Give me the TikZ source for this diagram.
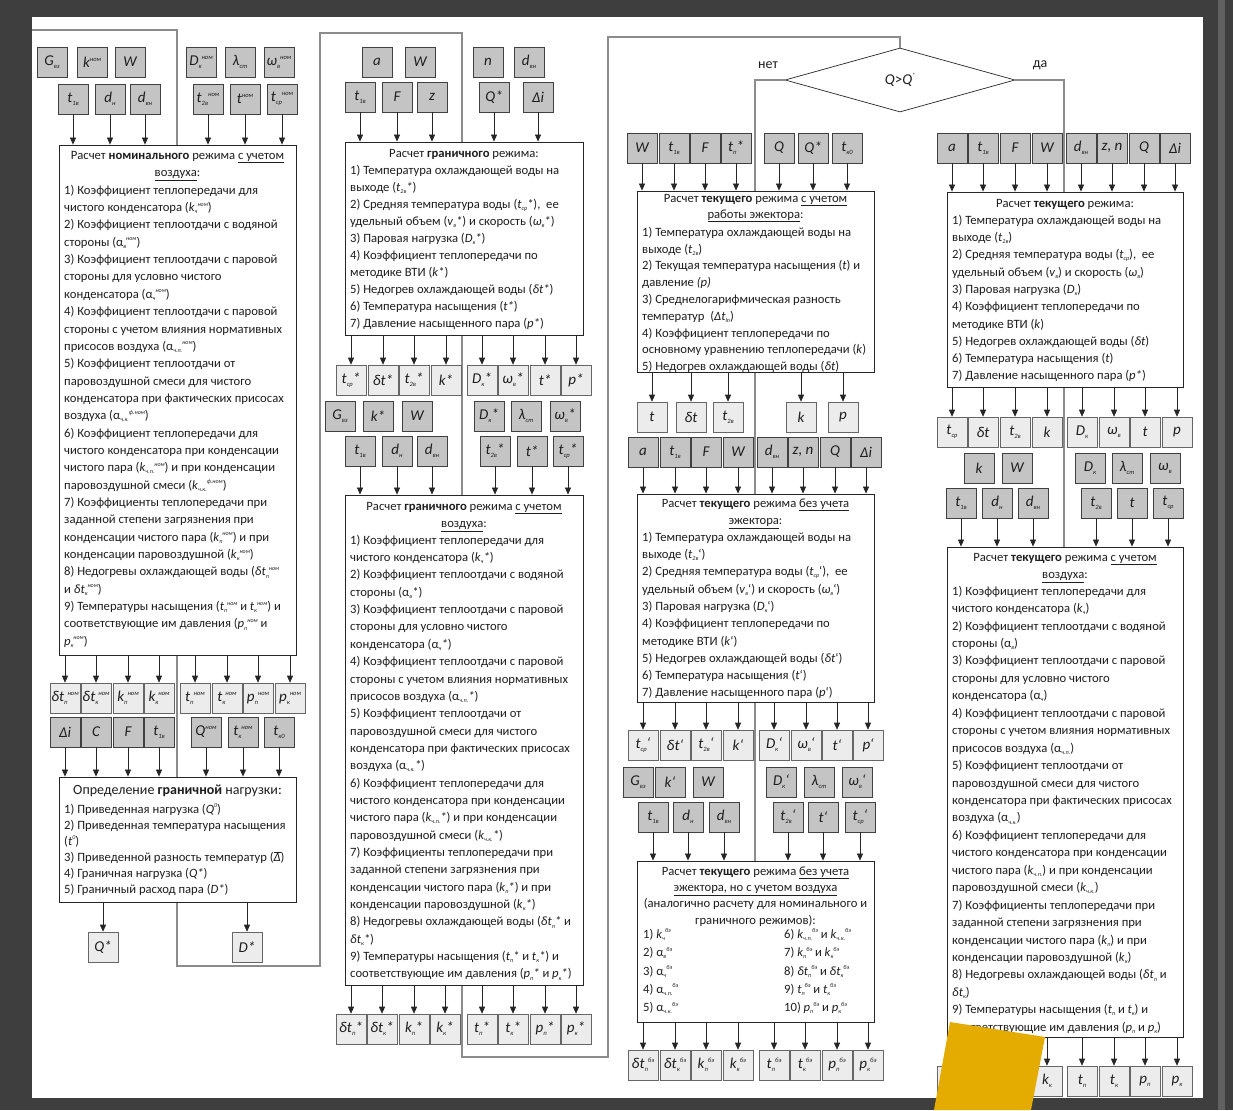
\documentclass[tikz,border=0pt]{standalone}
\usepackage{fontspec}
\setmainfont{Carlito}
\usetikzlibrary{arrows.meta,shapes.geometric}
\definecolor{frame}{RGB}{62,62,62}
\definecolor{gl}{RGB}{140,140,140}
\definecolor{inf}{RGB}{196,196,196}
\definecolor{outf}{RGB}{236,236,236}
\definecolor{ylw}{RGB}{228,172,0}
\definecolor{tx}{RGB}{30,30,30}
\newcommand\bxf{\fontsize{15}{15}\selectfont\itshape}
\newcommand\fz{12.65}
\newcommand\bodyf{\fontsize{\fz}{17.35}\selectfont}
\newcommand\st{\rule{0pt}{11pt}}
\newcommand\dn[1]{\raisebox{-0.35ex}{\fontsize{6}{6}\selectfont\itshape #1}}
\newcommand\up[1]{\raisebox{0.9ex}{\fontsize{6}{6}\selectfont\itshape #1}}
\newcommand\bd[1]{\raisebox{-0.4ex}{\fontsize{6.5}{6.5}\selectfont\itshape #1}}
\newcommand\bu[1]{\raisebox{0.85ex}{\fontsize{6.5}{6.5}\selectfont\itshape #1}}
\tikzset{
 inb/.style={draw=black!75, fill=inf, line width=0.6pt, minimum width=30pt, minimum height=30pt, inner sep=0pt, font=\bxf, text=tx},
 outb/.style={draw=black!60, fill=outf, line width=0.6pt, minimum width=30pt, minimum height=30pt, inner sep=0pt, font=\bxf, text=tx},
 mainb/.style={draw=black!85, fill=white, line width=0.8pt, inner sep=0pt},
 arr/.style={draw=black!85, line width=0.7pt, -{Triangle[length=7pt,width=6pt]}},
 gline/.style={draw=gl, line width=1.6pt},
 ttl/.style={inner sep=0pt, anchor=north, align=center, text=tx, font=\bodyf},
 body/.style={inner sep=0pt, anchor=north west, align=left, text=tx, font=\bodyf},
 lbl/.style={inner sep=0pt, text=tx, font=\fontsize{14}{14}\selectfont},
}
\newcommand\IB[4]{\node[inb] (#1) at (#2,#3) {#4};}
\newcommand\OB[4]{\node[outb] (#1) at (#2,#3) {#4};}
\newcommand\MB[5]{\node[mainb, minimum width={(#4-#2)*1pt}, minimum height={(#5-#3)*1pt}] (#1) at ({(#2+#4)/2},{(#3+#5)/2}) {};}
\newcommand\AD[2]{\draw[arr] (#1.south) -- (#1.south |- #2.north);}
\newcommand\AU[2]{\draw[arr] (#2.south -| #1.north) -- (#1.north);}
\begin{document}
\begin{tikzpicture}[x=1pt,y=-1pt]
\useasboundingbox (0,0) rectangle (1233,1110);
\fill[frame] (0,0) rectangle (1233,1110);
\fill[black!62] (1218,0) rectangle (1225,1110);
\fill[white] (32,17) rectangle (1203,1098);

% decision
\node[diamond, draw=black!85, line width=0.7pt, fill=white, minimum width=230pt, minimum height=64pt, inner sep=0pt, font=\fontsize{15}{15}\selectfont, text=tx] (dec) at (900,80) {\textit{Q}>\textit{Q}\up{*}};
\node[lbl] (net) at (768,65) {нет};
\node[lbl] (da) at (1040,65) {да};

% gray region lines
\draw[gline] (32,30) -- (177,30) -- (177,966) -- (320,966) -- (320,33) -- (462,33) -- (462,1057) -- (608,1057) -- (608,37) -- (900,37) -- (dec.north);
\coordinate (n1) at (755,80);
\coordinate (d1) at (1064,80);

% ================= column 1
\IB{c1g}{52}{62}{G\bd{вз}}
\IB{c1k}{92}{62}{k\bu{ном}}
\IB{c1w}{130}{62}{W}
\IB{c1D}{201}{62}{D\bd{к}\bu{ном}}
\IB{c1l}{240}{62}{λ\bd{ст}}
\IB{c1o}{279}{62}{ω\bd{в}\bu{ном}}
\IB{c1a}{73}{99}{t\bd{1в}}
\IB{c1b}{110}{99}{d\bd{н}}
\IB{c1c}{145}{99}{d\bd{вн}}
\IB{c1d}{208}{99}{t\bd{2в}\bu{ном}}
\IB{c1e}{245}{99}{t\bu{ном}}
\IB{c1f}{282}{99}{t\bd{ср}\bu{ном}}
\MB{B1}{59}{145}{296}{655}
\foreach \n in {c1a,c1b,c1c,c1d,c1e,c1f} {\AD{\n}{B1}}
\node[ttl] (B1t) at (177.5,148) {\st Расчет \textbf{номинального} режима \underline{с учетом}\\\underline{воздуха}:};
\node[body] (B1b) at (64,183) {\st 1) Коэффициент теплопередачи для\\
чистого конденсатора (\textit{k}\dn{ч}\up{ном})\\
2) Коэффициент теплоотдачи с водяной\\
стороны (α\dn{в}\up{ном})\\
3) Коэффициент теплоотдачи с паровой\\
стороны для условно чистого\\
конденсатора (α\dn{ч}\up{ном})\\
4) Коэффициент теплоотдачи с паровой\\
стороны с учетом влияния нормативных\\
присосов воздуха (α\dn{ч.п.}\up{ном})\\
5) Коэффициент теплоотдачи от\\
паровоздушной смеси для чистого\\
конденсатора при фактических присосах\\
воздуха (α\dn{ч.к.}\up{ф.ном})\\
6) Коэффициент теплопередачи для\\
чистого конденсатора при конденсации\\
чистого пара (\textit{k}\dn{ч.п.}\up{ном}) и при конденсации\\
паровоздушной смеси (\textit{k}\dn{ч.к.}\up{ф.ном})\\
7) Коэффициенты теплопередачи при\\
заданной степени загрязнения при\\
конденсации чистого пара (\textit{k}\dn{п}\up{ном}) и при\\
конденсации паровоздушной (\textit{k}\dn{к}\up{ном})\\
8) Недогревы охлаждающей воды (\textit{δt}\dn{п}\up{ном}\\
и \textit{δt}\dn{к}\up{ном})\\
9) Температуры насыщения (\textit{t}\dn{п}\up{ном} и \textit{t}\dn{к}\up{ном}) и\\
соответствующие им давления (\textit{p}\dn{п}\up{ном} и\\
\textit{p}\dn{к}\up{ном})};
\OB{o1a}{65}{698}{δt\bd{п}\bu{ном}}
\OB{o1b}{96}{698}{δt\bd{к}\bu{ном}}
\OB{o1c}{128}{698}{k\bd{п}\bu{ном}}
\OB{o1d}{159}{698}{k\bd{к}\bu{ном}}
\OB{o1e}{195}{698}{t\bd{п}\bu{ном}}
\OB{o1f}{227}{698}{t\bd{к}\bu{ном}}
\OB{o1g}{258}{698}{p\bd{п}\bu{ном}}
\OB{o1h}{290}{698}{p\bd{к}\bu{ном}}
\foreach \n in {o1a,o1b,o1c,o1d,o1e,o1f,o1g,o1h} {\AU{\n}{B1}}
\IB{i1a}{65}{732}{Δi}
\IB{i1b}{96}{732}{C}
\IB{i1c}{128}{732}{F}
\IB{i1d}{159}{732}{t\bd{1в}}
\IB{i1e}{206}{732}{Q\bu{ном}}
\IB{i1f}{243}{732}{t\bd{к}\bu{ном}}
\IB{i1g}{279}{732}{t\bd{к0}}
\MB{B2}{59}{777}{296}{902}
\foreach \n in {i1a,i1b,i1c,i1d,i1e,i1f,i1g} {\AD{\n}{B2}}
\node[ttl, font=\fontsize{14}{16}\selectfont] (B2t) at (177.5,783) {\st Определение \textbf{граничной} нагрузки:};
\node[body, font=\fontsize{\fz}{16}\selectfont] (B2b) at (64,802) {\st 1) Приведенная нагрузка (\textit{Q}\up{0})\\
2) Приведенная температура насыщения\\
(\textit{t}\up{0})\\
3) Приведенной разность температур ($\overline{\hbox{\textit{Δ}}}$)\\
4) Граничная нагрузка (\textit{Q*})\\
5) Граничный расход пара (\textit{D*})};
\OB{q1}{103}{947}{Q*}
\OB{dd1}{247}{947}{D*}
\AU{q1}{B2}
\AU{dd1}{B2}

% ================= column 2
\IB{c2a}{377}{62}{a}
\IB{c2w}{420}{62}{W}
\IB{c2n}{488}{62}{n}
\IB{c2d}{529}{62}{d\bd{вн}}
\IB{c2t}{360}{97}{t\bd{1в}}
\IB{c2f}{397}{97}{F}
\IB{c2z}{432}{97}{z}
\IB{c2q}{494}{97}{Q*}
\IB{c2i}{538}{97}{Δi}
\MB{B3}{345}{142}{583}{335}
\foreach \n in {c2t,c2f,c2z,c2q,c2i} {\AD{\n}{B3}}
\node[ttl] (B3t) at (464,146) {\st Расчет \textbf{граничного} режима:};
\node[body, font=\fontsize{\fz}{17}\selectfont] (B3b) at (350,163) {\st 1) Температура охлаждающей воды на\\
выходе (\textit{t}\dn{2в}\textit{*})\\
2) Средняя температура воды (\textit{t}\dn{ср}\textit{*}),~ ее\\
удельный объем (\textit{v}\dn{в}\textit{*}) и скорость (\textit{ω}\dn{в}\textit{*})\\
3) Паровая нагрузка (\textit{D}\dn{к}\textit{*})\\
4) Коэффициент теплопередачи по\\
методике ВТИ (\textit{k*})\\
5) Недогрев охлаждающей воды (\textit{δt*})\\
6) Температура насыщения (\textit{t*})\\
7) Давление насыщенного пара (\textit{p*})};
\OB{o2a}{351}{380}{t\bd{ср}*}
\OB{o2b}{383}{380}{δt*}
\OB{o2c}{414}{380}{t\bd{2в}*}
\OB{o2d}{446}{380}{k*}
\OB{o2e}{482}{380}{D\bd{к}*}
\OB{o2f}{513}{380}{ω\bd{в}*}
\OB{o2g}{545}{380}{t*}
\OB{o2h}{576}{380}{p*}
\foreach \n in {o2a,o2b,o2c,o2d,o2e,o2f,o2g,o2h} {\AU{\n}{B3}}
\IB{j2g}{340}{416}{G\bd{вз}}
\IB{j2k}{378}{416}{k*}
\IB{j2w}{417}{416}{W}
\IB{j2D}{489}{416}{D\bd{к}*}
\IB{j2l}{526}{416}{λ\bd{ст}}
\IB{j2o}{565}{416}{ω\bd{в}*}
\IB{j2a}{360}{451}{t\bd{1в}}
\IB{j2b}{397}{451}{d\bd{н}}
\IB{j2c}{432}{451}{d\bd{вн}}
\IB{j2d}{495}{451}{t\bd{2в}*}
\IB{j2e}{532}{451}{t*}
\IB{j2f}{568}{451}{t\bd{ср}*}
\MB{B4}{345}{495}{583}{985}
\foreach \n in {j2a,j2b,j2c,j2d,j2e,j2f} {\AD{\n}{B4}}
\node[ttl] (B4t) at (464,499) {\st Расчет \textbf{граничного} режима \underline{с учетом}\\\underline{воздуха}:};
\node[body] (B4b) at (350,533) {\st 1) Коэффициент теплопередачи для\\
чистого конденсатора (\textit{k}\dn{ч}\textit{*})\\
2) Коэффициент теплоотдачи с водяной\\
стороны (α\dn{в}\textit{*})\\
3) Коэффициент теплоотдачи с паровой\\
стороны для условно чистого\\
конденсатора (α\dn{ч}\textit{*})\\
4) Коэффициент теплоотдачи с паровой\\
стороны с учетом влияния нормативных\\
присосов воздуха (α\dn{ч.п.}\textit{*})\\
5) Коэффициент теплоотдачи от\\
паровоздушной смеси для чистого\\
конденсатора при фактических присосах\\
воздуха (α\dn{ч.к.}\textit{*})\\
6) Коэффициент теплопередачи для\\
чистого конденсатора при конденсации\\
чистого пара (\textit{k}\dn{ч.п.}\textit{*}) и при конденсации\\
паровоздушной смеси (\textit{k}\dn{ч.к.}\textit{*})\\
7) Коэффициенты теплопередачи при\\
заданной степени загрязнения при\\
конденсации чистого пара (\textit{k}\dn{п}\textit{*}) и при\\
конденсации паровоздушной (\textit{k}\dn{к}\textit{*})\\
8) Недогревы охлаждающей воды (\textit{δt}\dn{п}\textit{*} и\\
\textit{δt}\dn{к}\textit{*})\\
9) Температуры насыщения (\textit{t}\dn{п}\textit{*} и \textit{t}\dn{к}\textit{*}) и\\
соответствующие им давления (\textit{p}\dn{п}\textit{*} и \textit{p}\dn{к}\textit{*})};
\OB{o3a}{351}{1029}{δt\bd{п}*}
\OB{o3b}{382}{1029}{δt\bd{к}*}
\OB{o3c}{414}{1029}{k\bd{п}*}
\OB{o3d}{445}{1029}{k\bd{к}*}
\OB{o3e}{482}{1029}{t\bd{п}*}
\OB{o3f}{513}{1029}{t\bd{к}*}
\OB{o3g}{545}{1029}{p\bd{п}*}
\OB{o3h}{576}{1029}{p\bd{к}*}
\foreach \n in {o3a,o3b,o3c,o3d,o3e,o3f,o3g,o3h} {\AU{\n}{B4}}

% ================= column 3
\draw[gline] (dec.west) -- (n1) -- (n1 |- 0,861);
\IB{c3a}{642}{148}{W}
\IB{c3b}{674}{148}{t\bd{1в}}
\IB{c3c}{705}{148}{F}
\IB{c3d}{736}{148}{t\bd{п}*}
\IB{c3e}{779}{148}{Q}
\IB{c3f}{813}{148}{Q*}
\IB{c3g}{847}{148}{t\bd{к0}}
\MB{B5}{637}{191}{874}{372}
\foreach \n in {c3a,c3b,c3c,c3d,c3e,c3f,c3g} {\AD{\n}{B5}}
\node[ttl, font=\fontsize{\fz}{16}\selectfont] (B5t) at (755.5,191) {\st Расчет \textbf{текущего} режима \underline{с учетом}\\\underline{работы эжектора}:};
\node[body, font=\fontsize{\fz}{16.8}\selectfont] (B5b) at (642,225) {\st 1) Температура охлаждающей воды на\\
выходе (\textit{t}\dn{2в})\\
2) Текущая температура насыщения (\textit{t}) и\\
давление \textit{(p)}\\
3) Среднелогарифмическая разность\\
температур~ (\textit{Δt}\dn{ln})\\
4) Коэффициент теплопередачи по\\
основному уравнению теплопередачи (\textit{k})\\
5) Недогрев охлаждающей воды (\textit{δt})};
\OB{o4a}{652}{417}{t}
\OB{o4b}{691}{417}{δt}
\OB{o4c}{728}{417}{t\bd{2в}}
\OB{o4d}{801}{417}{k}
\OB{o4e}{843}{417}{p}
\foreach \n in {o4a,o4b,o4c,o4d,o4e} {\AU{\n}{B5}}
\IB{j3a}{643}{452}{a}
\IB{j3b}{675}{452}{t\bd{1в}}
\IB{j3c}{706}{452}{F}
\IB{j3d}{738}{452}{W}
\IB{j3e}{772}{452}{d\bd{вн}}
\IB{j3f}{803}{452}{z, n}
\IB{j3g}{835}{452}{Q}
\IB{j3h}{866}{452}{Δi}
\MB{B6}{637}{494}{874}{702}
\foreach \n in {j3a,j3b,j3c,j3d,j3e,j3f,j3g,j3h} {\AD{\n}{B6}}
\node[ttl] (B6t) at (755.5,496) {\st Расчет \textbf{текущего} режима \underline{без учета}\\\underline{эжектора}:};
\node[body, font=\fontsize{\fz}{17.3}\selectfont] (B6b) at (642,530) {\st 1) Температура охлаждающей воды на\\
выходе (\textit{t}\dn{2в}`)\\
2) Средняя температура воды (\textit{t}\dn{ср}`),~ ее\\
удельный объем (\textit{v}\dn{в}`) и скорость (\textit{ω}\dn{в}`)\\
3) Паровая нагрузка (\textit{D}\dn{к}`)\\
4) Коэффициент теплопередачи по\\
методике ВТИ (\textit{k}`)\\
5) Недогрев охлаждающей воды (\textit{δt}`)\\
6) Температура насыщения (\textit{t}`)\\
7) Давление насыщенного пара (\textit{p}`)};
\OB{o5a}{643}{745}{t\bd{ср}`}
\OB{o5b}{675}{745}{δt`}
\OB{o5c}{706}{745}{t\bd{2в}`}
\OB{o5d}{738}{745}{k`}
\OB{o5e}{774}{745}{D\bd{к}`}
\OB{o5f}{806}{745}{ω\bd{в}`}
\OB{o5g}{837}{745}{t`}
\OB{o5h}{868}{745}{p`}
\foreach \n in {o5a,o5b,o5c,o5d,o5e,o5f,o5g,o5h} {\AU{\n}{B6}}
\IB{k3g}{638}{782}{G\bd{вз}}
\IB{k3k}{670}{782}{k`}
\IB{k3w}{708}{782}{W}
\IB{k3D}{781}{782}{D\bd{к}`}
\IB{k3l}{819}{782}{λ\bd{ст}}
\IB{k3o}{857}{782}{ω\bd{в}`}
\IB{k3a}{653}{817}{t\bd{1в}}
\IB{k3b}{688}{817}{d\bd{н}}
\IB{k3c}{724}{817}{d\bd{вн}}
\IB{k3d}{788}{817}{t\bd{2в}`}
\IB{k3e}{823}{817}{t`}
\IB{k3f}{860}{817}{t\bd{ср}`}
\MB{B7}{637}{861}{874}{1022}
\foreach \n in {k3a,k3b,k3c,k3d,k3e,k3f} {\AD{\n}{B7}}
\node[ttl, font=\fontsize{\fz}{16.3}\selectfont] (B7t) at (755.5,864) {\st Расчет \textbf{текущего} режима \underline{без учета}\\\underline{эжектора, но с учетом воздуха}\\(аналогично расчету для номинального и\\граничного режимов):};
\node[body, font=\fontsize{\fz}{18.4}\selectfont] (B7l) at (643,927) {\st 1) \textit{k}\dn{ч}\up{бэ}\\
2) α\dn{в}\up{бэ}\\
3) α\dn{ч}\up{бэ}\\
4) α\dn{ч.п.}\up{бэ}\\
5) α\dn{ч.к.}\up{бэ}};
\node[body, font=\fontsize{\fz}{18.4}\selectfont] (B7r) at (784,927) {\st 6) \textit{k}\dn{ч.п.}\up{бэ} и \textit{k}\dn{ч.к.}\up{бэ}\\
7) \textit{k}\dn{п}\up{бэ} и \textit{k}\dn{к}\up{бэ}\\
8) \textit{δt}\dn{п}\up{бэ} и \textit{δt}\dn{к}\up{бэ}\\
9) \textit{t}\dn{п}\up{бэ} и \textit{t}\dn{к}\up{бэ}\\
10) \textit{p}\dn{п}\up{бэ} и \textit{p}\dn{к}\up{бэ}};
\OB{o6a}{643}{1065}{δt\bd{п}\bu{бэ}}
\OB{o6b}{675}{1065}{δt\bd{к}\bu{бэ}}
\OB{o6c}{706}{1065}{k\bd{п}\bu{бэ}}
\OB{o6d}{738}{1065}{k\bd{к}\bu{бэ}}
\OB{o6e}{774}{1065}{t\bd{п}\bu{бэ}}
\OB{o6f}{805}{1065}{t\bd{к}\bu{бэ}}
\OB{o6g}{837}{1065}{p\bd{п}\bu{бэ}}
\OB{o6h}{868}{1065}{p\bd{к}\bu{бэ}}
\foreach \n in {o6a,o6b,o6c,o6d,o6e,o6f,o6g,o6h} {\AU{\n}{B7}}

% ================= column 4
\draw[gline] (dec.east) -- (d1) -- (d1 |- 0,547);
\IB{c4a}{952}{148}{a}
\IB{c4b}{983}{148}{t\bd{1в}}
\IB{c4c}{1015}{148}{F}
\IB{c4d}{1047}{148}{W}
\IB{c4e}{1081}{148}{d\bd{вн}}
\IB{c4f}{1112}{148}{z, n}
\IB{c4g}{1144}{148}{Q}
\IB{c4h}{1175}{148}{Δi}
\MB{B8}{947}{192}{1183}{387}
\foreach \n in {c4a,c4b,c4c,c4d,c4e,c4f,c4g,c4h} {\AD{\n}{B8}}
\node[ttl] (B8t) at (1065,196) {\st Расчет \textbf{текущего} режима:};
\node[body, font=\fontsize{\fz}{17.3}\selectfont] (B8b) at (952,213) {\st 1) Температура охлаждающей воды на\\
выходе (\textit{t}\dn{2в})\\
2) Средняя температура воды (\textit{t}\dn{ср}),~ ее\\
удельный объем (\textit{v}\dn{в}) и скорость (\textit{ω}\dn{в})\\
3) Паровая нагрузка (\textit{D}\dn{к})\\
4) Коэффициент теплопередачи по\\
методике ВТИ (\textit{k})\\
5) Недогрев охлаждающей воды (\textit{δt})\\
6) Температура насыщения (\textit{t})\\
7) Давление насыщенного пара (\textit{p*})};
\OB{o7a}{952}{432}{t\bd{ср}}
\OB{o7b}{983}{432}{δt}
\OB{o7c}{1015}{432}{t\bd{2в}}
\OB{o7d}{1047}{432}{k}
\OB{o7e}{1082}{432}{D\bd{к}}
\OB{o7f}{1114}{432}{ω\bd{в}}
\OB{o7g}{1145}{432}{t}
\OB{o7h}{1177}{432}{p}
\foreach \n in {o7a,o7b,o7c,o7d,o7e,o7f,o7g,o7h} {\AU{\n}{B8}}
\IB{j4k}{979}{468}{k}
\IB{j4w}{1017}{468}{W}
\IB{j4D}{1090}{468}{D\bd{к}}
\IB{j4l}{1127}{468}{λ\bd{ст}}
\IB{j4o}{1165}{468}{ω\bd{в}}
\IB{j4a}{961}{503}{t\bd{1в}}
\IB{j4b}{997}{503}{d\bd{н}}
\IB{j4c}{1033}{503}{d\bd{вн}}
\IB{j4d}{1096}{503}{t\bd{2в}}
\IB{j4e}{1132}{503}{t}
\IB{j4f}{1168}{503}{t\bd{ср}}
\MB{B9}{947}{547}{1183}{1037}
\foreach \n in {j4a,j4b,j4c,j4d,j4e,j4f} {\AD{\n}{B9}}
\node[ttl] (B9t) at (1065,550) {\st Расчет \textbf{текущего} режима \underline{с учетом}\\\underline{воздуха}:};
\node[body, font=\fontsize{\fz}{17.44}\selectfont] (B9b) at (952,584) {\st 1) Коэффициент теплопередачи для\\
чистого конденсатора (\textit{k}\dn{ч})\\
2) Коэффициент теплоотдачи с водяной\\
стороны (α\dn{в})\\
3) Коэффициент теплоотдачи с паровой\\
стороны для условно чистого\\
конденсатора (α\dn{ч})\\
4) Коэффициент теплоотдачи с паровой\\
стороны с учетом влияния нормативных\\
присосов воздуха (α\dn{ч.п.})\\
5) Коэффициент теплоотдачи от\\
паровоздушной смеси для чистого\\
конденсатора при фактических присосах\\
воздуха (α\dn{ч.к.})\\
6) Коэффициент теплопередачи для\\
чистого конденсатора при конденсации\\
чистого пара (\textit{k}\dn{ч.п.}) и при конденсации\\
паровоздушной смеси (\textit{k}\dn{ч.к.})\\
7) Коэффициенты теплопередачи при\\
заданной степени загрязнения при\\
конденсации чистого пара (\textit{k}\dn{п}) и при\\
конденсации паровоздушной (\textit{k}\dn{к})\\
8) Недогревы охлаждающей воды (\textit{δt}\dn{п} и\\
\textit{δt}\dn{к})\\
9) Температуры насыщения (\textit{t}\dn{п} и \textit{t}\dn{к}) и\\
соответствующие им давления (\textit{p}\dn{п} и \textit{p}\dn{к})};
\OB{o8a}{952}{1081}{δt\bd{п}}
\OB{o8b}{983}{1081}{δt\bd{к}}
\OB{o8c}{1015}{1081}{k\bd{п}}
\OB{o8d}{1047}{1081}{k\bd{к}}
\OB{o8e}{1082}{1081}{t\bd{п}}
\OB{o8f}{1114}{1081}{t\bd{к}}
\OB{o8g}{1145}{1081}{p\bd{п}}
\OB{o8h}{1177}{1081}{p\bd{к}}
\foreach \n in {o8a,o8b,o8c,o8d,o8e,o8f,o8g,o8h} {\AU{\n}{B9}}

% yellow sheet on top
\fill[ylw] (950,1022) -- (1045,1037) -- (1031,1110) -- (934,1110) -- cycle;
\end{tikzpicture}
\end{document}
